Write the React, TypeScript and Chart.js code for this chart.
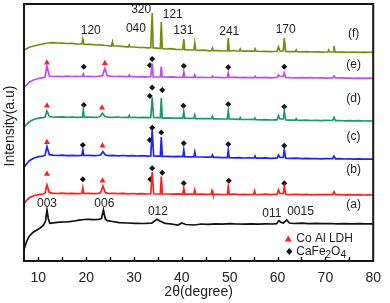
import React, { useEffect, useRef } from "react";
import { Chart, registerables } from "chart.js";

Chart.register(...registerables);

// 2θ (degree), intensity (a.u., arbitrary offset units)
const patternF: [number, number][] = [
  [7.1, 211], [8, 213.5], [9, 215], [10, 216], [11, 217], [12, 218], [13, 218.3], [14, 218], [15, 217.8], [16, 217.5], [17, 217.6], [18, 217], [19.1, 217], [19.3, 222], [19.5, 217],
  [20, 216.6], [21, 216.7], [22, 216], [23, 216.2], [24, 215.5], [25.3, 215], [25.5, 219], [25.7, 215], [26.5, 215], [27.5, 214.6], [28.5, 214.2], [28.8, 214], [29.0, 216], [29.2, 214],
  [30, 214], [31, 213.5], [32, 213.5], [33, 213.2], [33.5, 213.5], [33.8, 248], [34.0, 213], [34.8, 212.8], [35.5, 212.5], [35.7, 239], [35.9, 212.5], [36.8, 212], [37.8, 212.3], [38.8, 211.6],
  [39.8, 211.5], [40.2, 211.5], [40.4, 222], [40.6, 211.4], [41.5, 211], [42.5, 211], [42.7, 218], [42.9, 211], [43.8, 210.6], [44.8, 210.8], [45.8, 210.2], [46.2, 210.3], [46.4, 213], [46.6, 210.3],
  [47.5, 210.4], [48.5, 210], [49.5, 210], [49.7, 223], [49.9, 210], [50.8, 210.5], [51.6, 210], [52.0, 210], [52.2, 212], [52.4, 210], [53.2, 209.8], [54.2, 210], [55.1, 209.8], [55.3, 212], [55.5, 209.8],
  [56.5, 209.5], [57.5, 209.7], [58.5, 209.3], [59.5, 209.5], [59.9, 209.5], [60.2, 214], [60.5, 210], [61.2, 210], [61.4, 223], [61.7, 209.6], [62.6, 209.4], [63.7, 209.3], [63.9, 211], [64.1, 209.3],
  [65, 209], [66, 209.4], [67, 209], [68, 209.2], [69, 208.8], [70, 209], [70.5, 209], [70.7, 211], [70.9, 209], [71.6, 209], [71.8, 215], [72.0, 209], [73, 208.8], [74, 209], [75, 208.7],
  [76, 209], [77, 208.6], [78, 208.8], [79, 208.7], [80, 208.8],
];

const patternE: [number, number][] = [
  [7.1, 174], [7.6, 176.5], [8.2, 179], [9, 181], [10, 182.5], [11, 183.3], [11.4, 184], [11.8, 195], [12.3, 185], [13, 184.5], [14, 184.6], [15, 184.3], [16, 184.8], [17, 184.5], [18, 184.6],
  [19.2, 184.5], [19.4, 187], [19.6, 184.5], [20.5, 184.6], [21.5, 184.4], [22.5, 184.7], [23.4, 185.3], [23.9, 192.7], [24.4, 185.3], [25, 184.8], [26, 184.5], [27, 184.6], [28, 184.3],
  [28.8, 184.3], [29.0, 186], [29.2, 184.3], [30, 184.4], [31, 184.2], [32, 184.4], [33, 184], [33.5, 184.5], [33.8, 197.7], [34.0, 184], [35, 184], [35.5, 184], [35.7, 194.3], [35.9, 184],
  [37, 183.8], [38, 184.1], [39, 183.6], [40.2, 183.8], [40.4, 189.3], [40.6, 183.8], [41.5, 183.6], [42.5, 183.7], [42.7, 186], [42.9, 183.6], [44, 183.7], [45, 183.5], [46.2, 183.6], [46.4, 185], [46.6, 183.5],
  [47.5, 183.6], [48.5, 183.4], [49.5, 183.5], [49.7, 188], [49.9, 183.5], [51, 183.8], [52, 183.3], [53, 183.6], [54, 183.4], [55.1, 183.4], [55.3, 184.7], [55.5, 183.4], [56.5, 183.3], [57.5, 183.6],
  [58.5, 183.2], [59.5, 183.5], [59.9, 183.5], [60.2, 186], [60.5, 184.5], [61.2, 184.5], [61.4, 188], [61.7, 183.6], [62.6, 183.3], [64, 183.2], [65, 183.4], [66, 183.1], [67, 183.3], [68, 183],
  [69, 183.2], [70, 182.9], [71.5, 183], [71.8, 185], [72.1, 183], [73, 183.1], [74, 182.8], [75, 183], [76, 182.7], [77, 182.9], [78, 182.6], [79, 182.8], [80, 182.7],
];

const patternD: [number, number][] = [
  [7.1, 134.3], [7.6, 137], [8.2, 139.5], [9, 141.5], [10, 142.8], [11, 143.4], [11.4, 144], [11.8, 150], [12.3, 144.5], [13, 144], [14, 143.8], [15, 144.2], [16, 143.7], [17, 144], [18, 143.6],
  [19.2, 143.8], [19.4, 151], [19.6, 143.8], [20.5, 144], [21.5, 143.7], [22.5, 144], [22.9, 144.4], [23.4, 147.7], [23.9, 144.5], [24.5, 143.8], [25.5, 143.6], [26.5, 144], [27.5, 143.5], [28.5, 143.7],
  [28.8, 143.5], [29, 145.5], [29.2, 143.5], [30, 143.6], [31, 143.4], [32, 143.7], [33, 143.3], [33.5, 143.5], [33.8, 163.5], [34.1, 143.5], [35, 143.3], [35.5, 143.3], [35.7, 163], [35.9, 143],
  [37, 143.2], [38, 142.8], [39, 143], [40.2, 142.8], [40.4, 149.3], [40.6, 142.8], [41.5, 142.6], [42.5, 142.6], [42.7, 146], [42.9, 142.4], [44, 142.3], [45, 142.5], [46.2, 142.3], [46.4, 144.5], [46.6, 142.1],
  [47.5, 142.2], [48.5, 142], [49.5, 142], [49.7, 150], [49.9, 142], [51, 141.8], [52, 141.7], [52.2, 143.5], [52.4, 141.6], [53.5, 141.5], [54.5, 141.6], [55.1, 141.4], [55.3, 143], [55.5, 141.4],
  [56.5, 141.2], [57.5, 141.4], [58.5, 141], [59.5, 141.2], [59.9, 141.2], [60.2, 145.3], [60.5, 142], [61.2, 142], [61.4, 150], [61.7, 141.1], [62.6, 140.8], [63.7, 140.9], [63.9, 142.3], [64.1, 140.8],
  [65, 140.7], [66, 140.9], [67, 140.5], [68, 140.7], [69, 140.4], [70, 140.6], [71.5, 140.5], [71.8, 143.7], [72.1, 140.4], [73, 140.5], [74, 140.2], [75, 140.4], [76, 140.1], [77, 140.3], [78, 140],
  [79, 140.2], [80, 140],
];

const patternC: [number, number][] = [
  [7.1, 94.3], [7.6, 97.5], [8.2, 100.5], [9, 102.8], [10, 104.3], [11, 105], [11.4, 105.8], [11.8, 114.3], [12.3, 106.3], [13, 105.8], [14, 105.5], [15, 105.9], [16, 105.4], [17, 105.7], [18, 105.3],
  [19.1, 105.5], [19.3, 111], [19.5, 105.5], [20.5, 105.6], [21.5, 105.3], [22.5, 105.6], [23.0, 106], [23.5, 109.3], [24.0, 106], [24.7, 105.4], [25.7, 105.6], [26.7, 105.2], [27.7, 105.5],
  [28.7, 105.1], [29.7, 105.4], [30.7, 105], [31.7, 105.3], [32.7, 104.9], [33.5, 105], [33.8, 131], [34.1, 105], [35, 104.8], [35.5, 104.8], [35.7, 124], [35.9, 104.6], [37, 104.7], [38, 104.4],
  [39, 104.6], [40.2, 104.3], [40.4, 111], [40.6, 104.3], [41.5, 104.2], [42.5, 104.1], [42.7, 109], [42.9, 104], [44, 104], [45, 103.8], [46.2, 103.8], [46.4, 106], [46.6, 103.7], [47.5, 103.7],
  [48.5, 103.4], [49.5, 103.4], [49.7, 111], [49.9, 103.3], [51, 103.2], [52, 103.4], [53, 103], [54, 103.2], [55.1, 103], [55.3, 105], [55.5, 102.9], [56.5, 102.9], [57.5, 103.1], [58.5, 102.7],
  [59.5, 102.9], [59.9, 102.9], [60.2, 106], [60.5, 103.5], [61.2, 103.5], [61.4, 111], [61.7, 102.8], [62.6, 102.6], [64, 102.8], [65, 102.4], [66, 102.6], [67, 102.3], [68, 102.5], [69, 102.2],
  [70, 102.4], [71.5, 102.3], [71.8, 105], [72.1, 102.2], [73, 102.3], [74, 102], [75, 102.2], [76, 101.9], [77, 102.1], [78, 101.8], [79, 102], [80, 101.9],
];

const patternB: [number, number][] = [
  [7.1, 57.7], [7.6, 61], [8.2, 63.5], [9, 65.3], [10, 66.3], [11, 67], [11.4, 67.8], [11.8, 76], [12.3, 68.3], [13, 67.8], [14, 67.5], [15, 67.9], [16, 67.4], [17, 67.7], [18, 67.4],
  [19.1, 67.5], [19.3, 73], [19.5, 67.5], [20.5, 67.6], [21.5, 67.3], [22.5, 67.7], [23.0, 68.2], [23.5, 75], [24.0, 68.3], [24.7, 67.5], [25.7, 67.7], [26.7, 67.3], [27.7, 67.6], [28.7, 67.2],
  [29.7, 67.5], [30.7, 67.1], [31.7, 67.4], [32.7, 67], [33.5, 67.2], [33.8, 89], [34.1, 67.2], [35, 67], [35.5, 67], [35.7, 84.5], [35.9, 67], [37, 67], [38, 66.8], [39, 67.1],
  [40.2, 66.9], [40.4, 72.7], [40.6, 66.9], [41.5, 66.8], [42.5, 66.8], [42.7, 71], [42.9, 66.7], [44, 66.9], [45, 66.6], [46.1, 66.8], [46.3, 70.3], [46.5, 66.7], [47.5, 66.7], [48.5, 66.5],
  [49.5, 66.6], [49.7, 74.3], [49.9, 66.6], [51, 66.8], [52, 66.4], [53, 66.7], [54, 66.4], [55.0, 66.5], [55.2, 70], [55.4, 66.5], [56.5, 66.5], [57.5, 66.8], [58.5, 66.4], [59.5, 66.7],
  [59.9, 66.7], [60.2, 71], [60.5, 67.5], [61.2, 67.5], [61.4, 74.3], [61.7, 66.6], [62.6, 66.5], [64, 66.7], [65, 66.3], [66, 66.6], [67, 66.2], [68, 66.5], [69, 66.3], [70, 66.5],
  [71.5, 66.4], [71.8, 69.3], [72.1, 66.3], [73, 66.5], [74, 66.2], [75, 66.4], [76, 66.1], [77, 66.3], [78, 66], [79, 66.2], [80, 66],
];

const patternA: [number, number][] = [
  [7.1, 12.7], [7.5, 19], [8.0, 24], [8.5, 27], [9.0, 29], [9.7, 31], [10.4, 33], [11.1, 36], [11.5, 40], [11.8, 51], [12.1, 42], [12.4, 37.7], [13.5, 38.3], [14.5, 38.8], [15.5, 39],
  [16.5, 39.3], [17.5, 40], [18.5, 40.8], [19.5, 41.5], [20.5, 41.6], [21.5, 41.3], [22.5, 41.5], [23.2, 42.5], [23.6, 51], [24.0, 42], [24.4, 40.3], [25.5, 39.5], [26.9, 38.3], [28.5, 38],
  [30.3, 37.7], [32, 37.5], [33.7, 37.8], [34.3, 40], [34.8, 41.7], [35.4, 40], [36.5, 37.7], [37.8, 37], [39.2, 36], [40, 38], [40.8, 36.5], [42.6, 36], [44, 37], [45.5, 36.6], [47, 37.2],
  [48.5, 36.8], [50, 37.3], [51.5, 37], [53, 36.8], [54.5, 37.2], [56, 36.9], [57.5, 37.1], [59, 37], [59.8, 37.3], [60.3, 40.3], [60.8, 38.5], [61.2, 38], [61.9, 41], [62.5, 38], [63.3, 37.5],
  [65, 37.8], [66.5, 37.4], [68, 37.6], [69.5, 37.3], [71, 37.5], [72.5, 37.2], [74, 37.4], [75.5, 37.1], [77, 37.3], [78.5, 37.1], [80, 37.2],
];

// Peak markers (2θ, intensity)
const ldhMarkers: [number, number][] = [
  [11.8, 198.3], [23.9, 197.7],
  [11.8, 155.3], [23.3, 153.3],
  [11.8, 118.7], [23.4, 115.3],
  [11.8, 87], [23.4, 80.3],
];
const cafeMarkers: [number, number][] = [
  [19.5, 194.3], [33.3, 195.7], [33.8, 202], [40.4, 195], [49.7, 193.7], [61.4, 194.3],
  [19.5, 156], [33.3, 165], [33.8, 173.5], [35.9, 171], [40.3, 155.3], [49.7, 156.7], [61.4, 154.3],
  [19.3, 116], [33.3, 121], [33.8, 133.3], [35.7, 128.5], [40.4, 117.7], [49.7, 116.7], [61.4, 115.3],
  [19.3, 81.7], [33.4, 81.7], [33.8, 92.7], [35.9, 88.3], [40.4, 77.7], [49.8, 80.3], [61.4, 77.7],
];

// Text labels: [text, 2θ, intensity]
const hklLabels: [string, number, number][] = [
  ["120", 20.95, 230], ["040", 30.4, 232.7], ["320", 31.5, 251], ["121", 38.1, 246], ["131", 40.3, 230.3],
  ["241", 49.9, 229], ["170", 61.7, 231],
  ["003", 11.8, 57], ["006", 23.8, 57], ["012", 35.0, 49.3], ["011", 58.8, 47.7], ["0015", 64.8, 49.3],
];
const curveLabels: [string, number, number][] = [
  ["(f)", 75.9, 227.5], ["(e)", 75.9, 196], ["(d)", 75.9, 162.7], ["(c)", 75.9, 124.5], ["(b)", 75.9, 91], ["(a)", 75.9, 56],
];

const xTickValues = [10, 20, 30, 40, 50, 60, 70, 80];
const xMinorTicks = [10, 15, 20, 25, 30, 35, 40, 45, 50, 55, 60, 65, 70, 75];

const FONT = "'Liberation Sans', Arial, sans-serif";

const series = [
  { name: "f", data: patternF, color: "#748f10" },
  { name: "e", data: patternE, color: "#c34af2" },
  { name: "d", data: patternD, color: "#1d9a6c" },
  { name: "c", data: patternC, color: "#1e22ff" },
  { name: "b", data: patternB, color: "#ff1e1e" },
  { name: "a", data: patternA, color: "#111111" },
];

const overlayPlugin = {
  id: "overlay",
  afterDatasetsDraw(chart: any) {
    const { ctx, chartArea: a, scales } = chart;
    const xs = scales.x;
    const ys = scales.y;
    ctx.save();
    // frame
    ctx.strokeStyle = "#151515";
    ctx.lineWidth = 2;
    ctx.strokeRect(a.left, a.top, a.right - a.left, a.bottom - a.top);
    // inward ticks
    ctx.lineWidth = 1.5;
    for (const t of xMinorTicks) {
      const px = Math.round(xs.getPixelForValue(t)) + 0.5;
      ctx.beginPath();
      ctx.moveTo(px, a.bottom);
      ctx.lineTo(px, a.bottom - 4);
      ctx.stroke();
    }
    // labels
    ctx.fillStyle = "#222";
    ctx.textAlign = "center";
    ctx.textBaseline = "middle";
    ctx.font = `12px ${FONT}`;
    for (const [t, x, y] of hklLabels) {
      ctx.fillText(t, xs.getPixelForValue(x), ys.getPixelForValue(y));
    }
    for (const [t, x, y] of curveLabels) {
      ctx.fillText(t, xs.getPixelForValue(x), ys.getPixelForValue(y));
    }
    // legend
    const lx = a.right - 85;
    const ly1 = a.bottom - 22;
    const ly2 = a.bottom - 9.5;
    ctx.fillStyle = "#ff1e1e";
    ctx.beginPath();
    ctx.moveTo(lx, ly1 - 3.5);
    ctx.lineTo(lx + 3.5, ly1 + 2.5);
    ctx.lineTo(lx - 3.5, ly1 + 2.5);
    ctx.closePath();
    ctx.fill();
    ctx.fillStyle = "#111";
    ctx.beginPath();
    ctx.moveTo(lx + 1, ly2 - 3.5);
    ctx.lineTo(lx + 4, ly2);
    ctx.lineTo(lx + 1, ly2 + 3.5);
    ctx.lineTo(lx - 2, ly2);
    ctx.closePath();
    ctx.fill();
    ctx.fillStyle = "#222";
    ctx.textAlign = "left";
    ctx.font = `12px ${FONT}`;
    ctx.fillText("Co Al LDH", lx + 8, ly1);
    let tx = lx + 8;
    const parts: [string, boolean][] = [["CaFe", false], ["2", true], ["O", false], ["4", true]];
    for (const [s, sub] of parts) {
      ctx.font = sub ? `10px ${FONT}` : `12px ${FONT}`;
      ctx.fillText(s, tx, sub ? ly2 + 4 : ly2);
      tx += ctx.measureText(s).width;
    }
    // axis titles
    ctx.font = `14px ${FONT}`;
    ctx.textAlign = "center";
    ctx.fillText("2θ(degree)", (a.left + a.right) / 2, 292);
    ctx.save();
    ctx.translate(10, 126);
    ctx.rotate(-Math.PI / 2);
    ctx.fillText("Intensity(a.u)", 0, 0);
    ctx.restore();
    ctx.restore();
  },
};

export default function App() {
  const ref = useRef<HTMLCanvasElement | null>(null);
  useEffect(() => {
    if (!ref.current) return;
    const toXY = (arr: [number, number][]) => arr.map(([x, y]) => ({ x, y }));
    const datasets: any[] = series.map((s) => ({
      label: s.name,
      data: toXY(s.data),
      borderColor: s.color,
      borderWidth: 1.7,
      pointRadius: 0,
      tension: 0,
      fill: false,
    }));
    datasets.push({
      label: "Co Al LDH",
      data: toXY(ldhMarkers),
      showLine: false,
      pointStyle: "triangle",
      pointRadius: 3.5,
      pointBackgroundColor: "#ff1e1e",
      pointBorderWidth: 0,
      borderColor: "#ff1e1e",
    });
    datasets.push({
      label: "CaFe2O4",
      data: toXY(cafeMarkers),
      showLine: false,
      pointStyle: "rectRot",
      pointRadius: 3,
      pointBackgroundColor: "#111",
      pointBorderWidth: 0,
      borderColor: "#111",
    });
    const chart = new Chart(ref.current, {
      type: "line",
      data: { datasets },
      options: {
        animation: false,
        responsive: false,
        devicePixelRatio: 1,
        layout: { padding: { top: 4, right: 12, left: 24, bottom: 0 } },
        plugins: { legend: { display: false }, tooltip: { enabled: false } },
        scales: {
          x: {
            type: "linear",
            min: 7,
            max: 80,
            grid: { display: false, drawTicks: false },
            border: { display: false },
            afterBuildTicks: (scale: any) => {
              scale.ticks = xTickValues.map((v) => ({ value: v }));
            },
            afterFit: (scale: any) => {
              scale.height = 42;
            },
            ticks: {
              padding: 9,
              maxRotation: 0,
              autoSkip: false,
              color: "#222",
              font: { family: FONT, size: 14 },
              callback: (v: any) => String(v),
            },
          },
          y: { type: "linear", min: 0, max: 257, display: false },
        },
      },
      plugins: [overlayPlugin],
    });
    return () => chart.destroy();
  }, []);
  return (
    <div style={{ position: "fixed", left: 0, top: 0, width: 390, height: 303, background: "#fff" }}>
      <canvas ref={ref} width={390} height={303} style={{ width: 390, height: 303, display: "block" }} />
    </div>
  );
}
